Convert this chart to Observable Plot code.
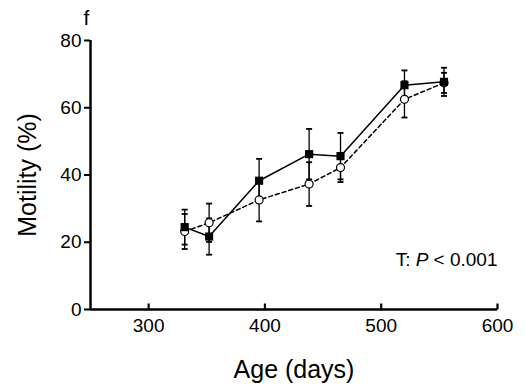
<!DOCTYPE html>
<html>
<head>
<meta charset="utf-8">
<script src="https://cdn.jsdelivr.net/npm/d3@7"></script>
<script src="https://cdn.jsdelivr.net/npm/@observablehq/plot@0.6"></script>
<style>
  html, body { margin: 0; padding: 0; background: #fff; }
</style>
</head>
<body>
<div id="chart"></div>
<script>
const ages   = [331, 352, 395, 438, 465, 520, 554];
const sqMean = [24.5, 21.7, 38.3, 46.2, 45.6, 66.7, 67.7];
const sqSE   = [5.2, 5.4, 6.5, 7.5, 6.9, 4.4, 4.2];
const ciMean = [23.2, 25.8, 32.6, 37.3, 42.2, 62.5, 67.4];
const ciSE   = [5.2, 5.7, 6.4, 6.5, 4.3, 5.4, 3.0];
const xTicks = [300, 400, 500, 600];
const yTicks = [0, 20, 40, 60, 80];
const panelLabel = "f";
const xTitle = "Age (days)";
const yTitle = "Motility (%)";

const sq = ages.map((a, i) => ({age: a, mean: sqMean[i], se: sqSE[i]}));
const ci = ages.map((a, i) => ({age: a, mean: ciMean[i], se: ciSE[i]}));
const errs = [...sq, ...ci].flatMap(d => [
  {age: d.age, y: d.mean + d.se},
  {age: d.age, y: d.mean - d.se}
]);

const capSymbol = {draw(ctx) { ctx.moveTo(-3, 0); ctx.lineTo(3, 0); }};
const upTick = {draw(ctx) { ctx.moveTo(0, 0); ctx.lineTo(0, -6); }};
const font = "'Liberation Sans', Arial, Helvetica, sans-serif";

const chart = Plot.plot({
  width: 525,
  height: 385,
  marginLeft: 90,
  marginRight: 28,
  marginTop: 40,
  marginBottom: 76,
  style: {fontFamily: font, fontSize: "19px", color: "#000", background: "#fff"},
  x: {domain: [250, 600]},
  y: {domain: [0, 80]},
  marks: [
    // error bars
    Plot.ruleX([...sq, ...ci], {x: "age", y1: d => d.mean - d.se, y2: d => d.mean + d.se, stroke: "#000", strokeWidth: 1.3}),
    Plot.dot(errs, {x: "age", y: "y", symbol: capSymbol, stroke: "#000", strokeWidth: 1.8, fill: "none"}),
    // lines
    Plot.line(ci, {x: "age", y: "mean", stroke: "#000", strokeWidth: 1.5, strokeDasharray: "4,3"}),
    Plot.line(sq, {x: "age", y: "mean", stroke: "#000", strokeWidth: 1.5}),
    // markers
    Plot.dot(ci, {x: "age", y: "mean", r: 4, symbol: "circle", fill: "#fff", stroke: "#000", strokeWidth: 1.2}),
    Plot.dot(sq, {x: "age", y: "mean", r: 4.6, symbol: "square", fill: "#000", stroke: "none"}),
    // axes
    Plot.axisY({ticks: yTicks, tickSize: 6, tickPadding: 3, strokeWidth: 2, label: null, fontSize: 19}),
    Plot.axisX({ticks: xTicks, tickSize: 0, tickPadding: 9, label: null, fontSize: 19}),
    Plot.dot(xTicks, {x: d => d, frameAnchor: "bottom", symbol: upTick, stroke: "#000", strokeWidth: 2.2, fill: "none"}),
    Plot.ruleY([0], {stroke: "#000", strokeWidth: 2.5}),
    Plot.ruleX([250], {stroke: "#000", strokeWidth: 2.5}),
    // titles & annotation
    Plot.text([yTitle], {frameAnchor: "left", dx: -63, rotate: -90, fontSize: 25, fill: "#000", textAnchor: "middle", lineAnchor: "middle"}),
    Plot.text([xTitle], {frameAnchor: "bottom", dy: 60, fontSize: 25, fill: "#000", textAnchor: "middle", lineAnchor: "middle"}),
    Plot.text([panelLabel], {frameAnchor: "top-left", dx: -7, dy: -22, fontSize: 21, fill: "#000", textAnchor: "start", lineAnchor: "middle"}),
    Plot.text(["T:"], {frameAnchor: "bottom-right", dy: -50, fontSize: 19, fill: "#000", textAnchor: "end", lineAnchor: "middle", dx: -87}),
    Plot.text(["P"], {frameAnchor: "bottom-right", dy: -50, fontSize: 19, fill: "#000", textAnchor: "end", lineAnchor: "middle", dx: -69, fontStyle: "italic"}),
    Plot.text(["< 0.001"], {frameAnchor: "bottom-right", dy: -50, fontSize: 19, fill: "#000", textAnchor: "end", lineAnchor: "middle"})
  ]
});
document.getElementById("chart").appendChild(chart);
</script>
</body>
</html>
